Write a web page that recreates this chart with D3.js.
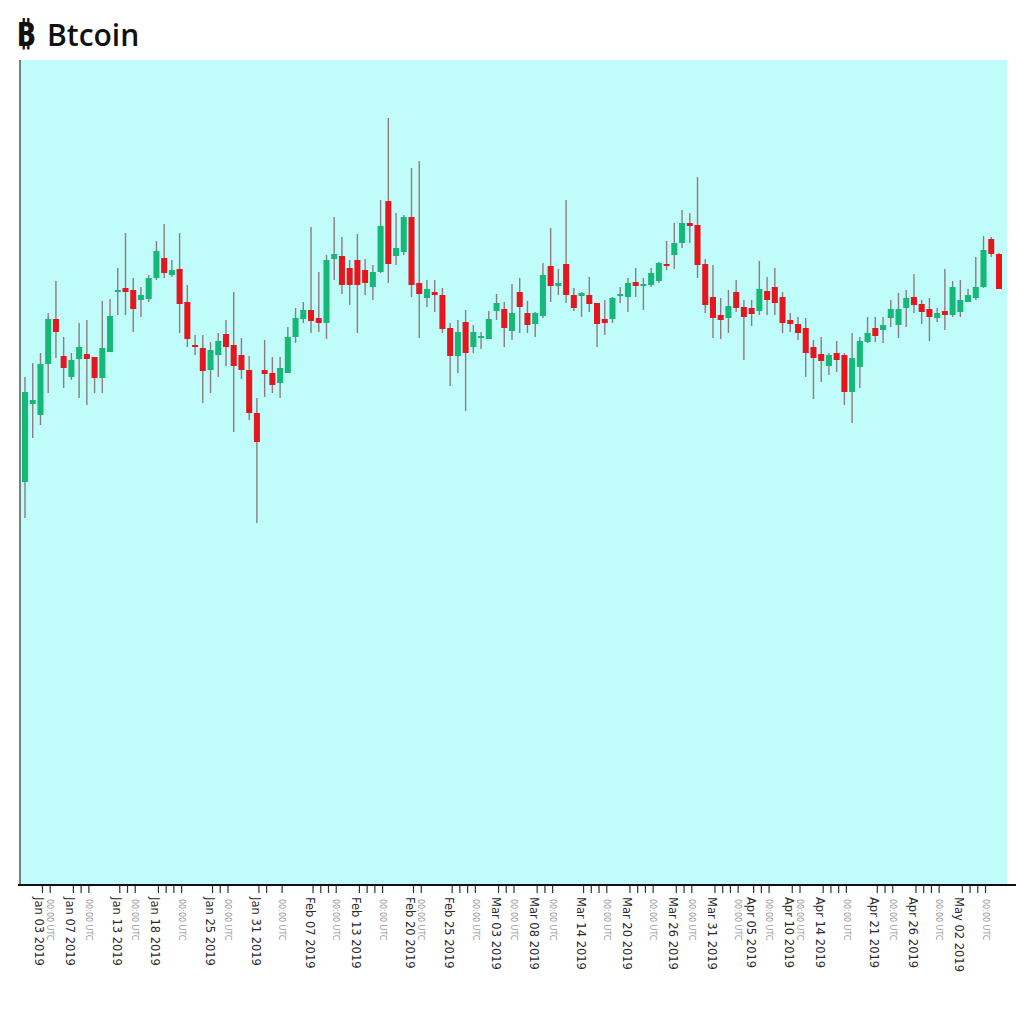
<!DOCTYPE html>
<html>
<head>
<meta charset="utf-8">
<script src="https://cdn.jsdelivr.net/npm/d3@7"></script>
<style>
  body { margin: 0; background: #fff; }
  svg { display: block; }
</style>
</head>
<body>
<script>
// daily candles, values (price units, arbitrary scale)
const open = [403,481,470,521,566,529,508,526,531,528,507,533,593,597,595,585,586,607,627,610,
  616,583,540,537,515,530,551,540,530,515,472,515,512,502,512,548,566,575,567,562,
  626,629,617,625,615,598,613,684,629,633,668,602,587,593,590,557,529,563,538,547,
  546,574,576,554,593,572,561,569,619,599,621,590,589,590,582,566,566,589,588,603,
  599,600,604,621,630,642,662,660,621,588,570,567,593,578,577,574,594,598,588,565,
  561,557,538,531,519,532,530,493,518,543,557,555,567,560,577,588,581,576,567,574,
  570,573,583,587,598,646,631];
const high = [508,522,532,572,604,548,532,562,565,528,584,586,617,652,607,598,610,644,661,625,
  652,600,550,550,543,552,565,593,547,529,487,545,528,528,558,577,583,658,613,630,
  668,648,625,651,626,620,685,767,672,670,717,724,605,605,597,562,565,575,560,553,
  574,591,583,601,607,584,573,622,657,616,685,597,593,608,582,585,588,598,607,617,
  607,617,623,644,662,675,672,708,626,620,587,595,605,585,585,624,608,617,593,572,
  568,567,545,548,532,544,532,552,548,568,568,568,585,592,595,611,585,587,577,616,
  604,605,596,628,649,648,632];
const low = [367,447,460,492,527,497,505,487,480,492,492,533,570,570,553,568,583,605,607,608,
  552,538,530,482,492,508,519,453,506,465,362,488,492,487,512,542,562,552,553,546,
  605,591,580,552,590,585,612,602,620,630,588,547,578,573,552,499,512,474,532,536,
  546,565,538,545,552,552,548,567,583,590,582,574,568,573,538,550,562,582,573,588,
  575,598,602,615,616,637,642,607,572,547,546,552,573,525,559,570,570,570,552,553,
  545,508,486,503,510,513,480,462,497,542,543,542,558,547,558,572,561,544,563,555,
  568,568,583,585,597,628,596];
const close = [493,485,521,566,553,517,525,538,526,507,537,569,595,593,576,590,607,634,612,615,
  581,546,538,514,535,544,538,519,515,472,443,511,500,517,548,567,575,564,562,625,
  631,600,600,600,602,613,659,621,637,668,600,591,596,590,556,529,553,532,553,549,
  566,582,557,572,578,560,572,610,599,602,590,577,592,581,561,562,587,591,602,599,
  601,612,622,619,642,662,659,620,580,567,565,579,577,568,571,596,585,582,562,561,
  552,532,527,524,530,525,493,527,544,552,549,560,576,576,587,580,573,568,572,570,
  598,585,590,598,635,631,596];

// x-axis ticks (candle indices) and their labels
const tickIdx = [2,3, 6,7,8, 12,13,14, 17,18,19,20, 24,25,26, 30,31,33, 37,38,39,40,
  43,44,45,46, 50,51, 55,56,57,58, 61,62,63, 66,67,68, 72,73,74,75, 78,79,80,81,
  84,85,86, 89,90,91,92, 94,95,96, 99,100, 103,104,105,106, 110,111,112,
  115,116,117,118, 121,122,123,124];
const mainLabelIdx = [2,6,12,17,24,30,37,43,50,55,61,66,72,78,84,89,94,99,103,110,115,121];
const mainLabels = ["Jan 03 2019","Jan 07 2019","Jan 13 2019","Jan 18 2019","Jan 25 2019",
  "Jan 31 2019","Feb 07 2019","Feb 13 2019","Feb 20 2019","Feb 25 2019","Mar 03 2019",
  "Mar 08 2019","Mar 14 2019","Mar 20 2019","Mar 26 2019","Mar 31 2019","Apr 05 2019",
  "Apr 10 2019","Apr 14 2019","Apr 21 2019","Apr 26 2019","May 02 2019"];
const subLabelIdx = [3,8,14,20,26,33,40,46,51,58,63,68,75,81,86,92,96,100,106,112,118,124];
const subLabels = ["00:00 UTC","00:00 UTC","00:00 UTC","00:00 UTC","00:00 UTC","00:00 UTC",
  "00:00 UTC","00:00 UTC","00:00 UTC","00:00 UTC","00:00 UTC","00:00 UTC","00:00 UTC",
  "00:00 UTC","00:00 UTC","00:00 UTC","00:00 UTC","00:00 UTC","00:00 UTC","00:00 UTC",
  "00:00 UTC","00:00 UTC"];

const candles = open.map((o, i) => ({ i, o, h: high[i], l: low[i], c: close[i] }));

const width = 1024, height = 1024;
const plot = { left: 20, right: 1007, top: 60, bottom: 885 };

const svg = d3.select("body").append("svg")
  .attr("width", width)
  .attr("height", height);

const x = d3.scaleBand()
  .domain(d3.range(candles.length))
  .range([22, 1002])
  .paddingInner(0.22)
  .paddingOuter(0);
const mid = i => x(i) + x.bandwidth() / 2;
const tickShift = 2;

const y = d3.scaleLinear()
  .domain([0, 825])
  .range([plot.bottom, plot.top]);

// title
const title = svg.append("g").attr("transform", "translate(16,46)");
title.append("text")
  .attr("x", 0)
  .attr("font-family", "Noto Sans, DejaVu Sans, sans-serif")
  .attr("font-weight", "bold")
  .attr("font-size", 34)
  .attr("fill", "#111")
  .text("\u20BF");
title.append("text")
  .attr("x", 31)
  .attr("font-family", "Open Sans, Noto Sans, sans-serif")
  .attr("font-weight", 600)
  .attr("font-size", 30)
  .attr("fill", "#111")
  .text("Btcoin");

// plot background
svg.append("rect")
  .attr("x", plot.left)
  .attr("y", plot.top)
  .attr("width", plot.right - plot.left)
  .attr("height", plot.bottom - plot.top)
  .attr("fill", "#c0fcf9");

// wicks
svg.append("g")
  .selectAll("line")
  .data(candles)
  .enter().append("line")
  .attr("x1", d => mid(d.i))
  .attr("x2", d => mid(d.i))
  .attr("y1", d => y(d.h))
  .attr("y2", d => y(d.l))
  .attr("stroke", "#8b7c7e")
  .attr("stroke-width", 1.4);

// bodies
svg.append("g")
  .selectAll("rect")
  .data(candles)
  .enter().append("rect")
  .attr("x", d => x(d.i))
  .attr("width", x.bandwidth())
  .attr("y", d => y(Math.max(d.o, d.c)))
  .attr("height", d => Math.max(2, Math.abs(y(d.o) - y(d.c))))
  .attr("fill", d => d.c >= d.o ? "#16b878" : "#e4171f");

// axes lines
svg.append("line")
  .attr("x1", plot.left).attr("x2", plot.left)
  .attr("y1", plot.top).attr("y2", plot.bottom)
  .attr("stroke", "#555").attr("stroke-width", 1.5);
svg.append("line")
  .attr("x1", 18).attr("x2", 1016)
  .attr("y1", plot.bottom).attr("y2", plot.bottom)
  .attr("stroke", "#111").attr("stroke-width", 2);

// ticks
svg.append("g")
  .selectAll("line")
  .data(tickIdx)
  .enter().append("line")
  .attr("x1", d => mid(d) + tickShift)
  .attr("x2", d => mid(d) + tickShift)
  .attr("y1", plot.bottom + 1)
  .attr("y2", plot.bottom + 8)
  .attr("stroke", "#333")
  .attr("stroke-width", 1.2);

// tick labels, rotated
svg.append("g")
  .selectAll("text")
  .data(mainLabelIdx)
  .enter().append("text")
  .attr("transform", d => `translate(${mid(d) + tickShift - 3},${plot.bottom + 12}) rotate(90)`)
  .attr("dy", "0.35em")
  .attr("font-family", "DejaVu Sans, sans-serif")
  .attr("font-size", 11.5)
  .attr("fill", "#2a2a2a")
  .text((d, i) => mainLabels[i]);

svg.append("g")
  .selectAll("text")
  .data(subLabelIdx)
  .enter().append("text")
  .attr("transform", d => `translate(${mid(d) + tickShift},${plot.bottom + 14}) rotate(90)`)
  .attr("dy", "0.35em")
  .attr("font-family", "DejaVu Sans, sans-serif")
  .attr("font-size", 8)
  .attr("fill", "#999")
  .text((d, i) => subLabels[i]);
</script>
</body>
</html>
